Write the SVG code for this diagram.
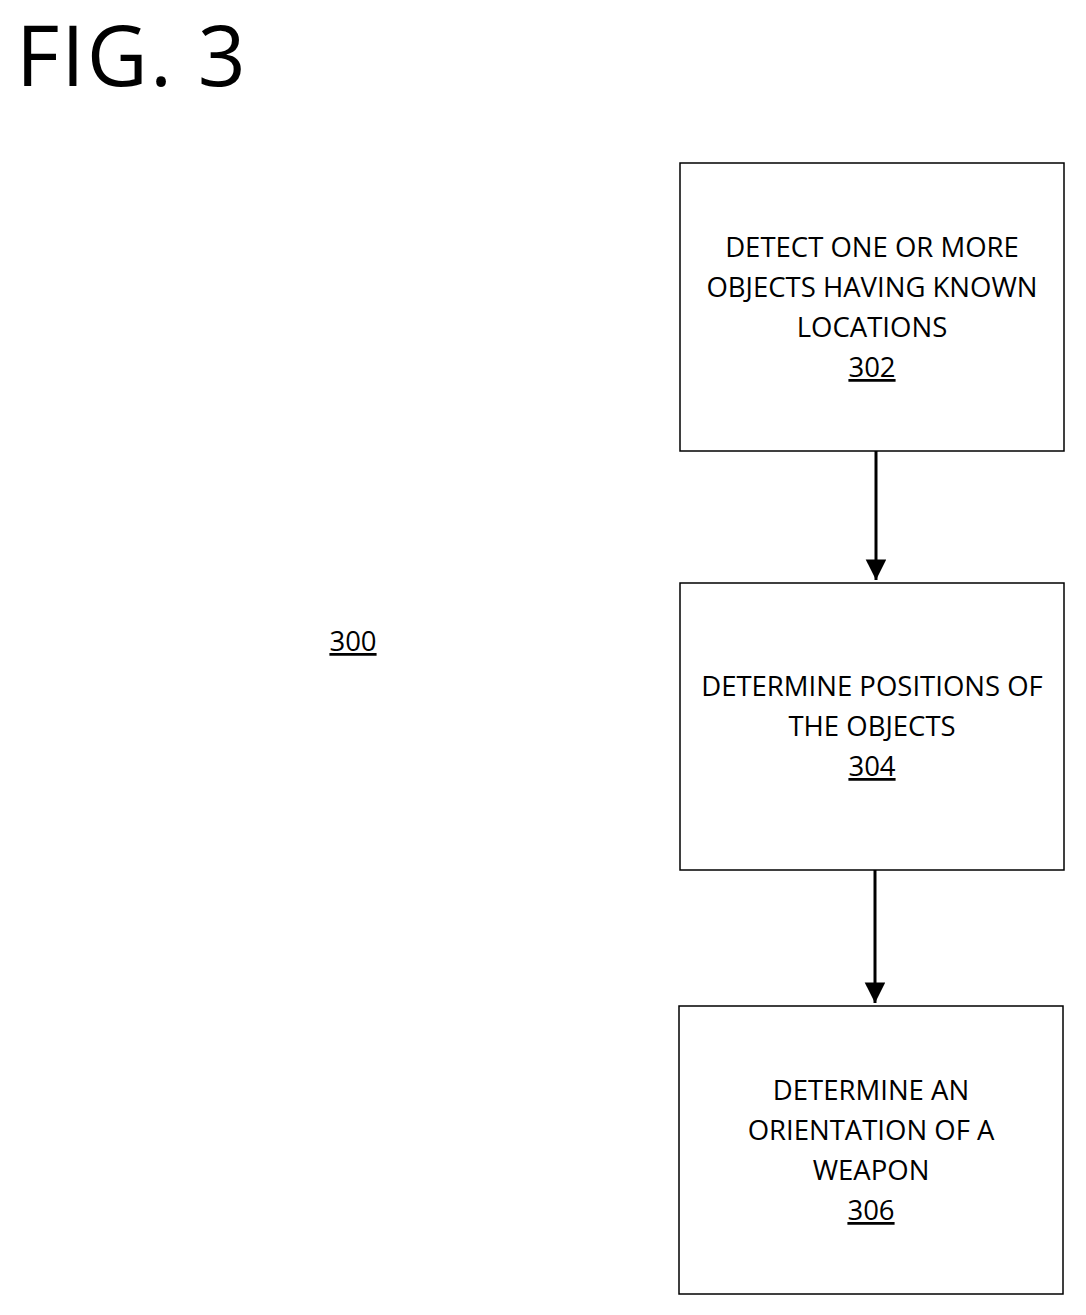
<svg xmlns="http://www.w3.org/2000/svg" width="1086" height="1315" viewBox="0 0 1086 1315">
<style>
.b{fill:#fff;stroke:#000;stroke-width:1.5}
.t{font-family:"Open Sans","Liberation Sans",sans-serif;font-size:27.5px;text-anchor:middle;fill:#000}
.l{stroke:#000;stroke-width:3;fill:none}
</style>
<defs><marker id="ah" viewBox="0 0 24 28" refX="24" refY="12" markerWidth="28" markerHeight="24" orient="auto" markerUnits="userSpaceOnUse"><path d="M0,0L24,12L0,24z"/></marker></defs>
<rect width="1086" height="1315" fill="#fff"/>
<text x="16" y="86" style="font-family:'Open Sans','Liberation Sans',sans-serif;font-size:84px;letter-spacing:2px">FIG. 3</text>
<text x="353" y="651" class="t" text-decoration="underline">300</text>
<g id="n302"><rect class="b" x="680" y="163" width="384" height="288"/>
<text class="t" x="872" y="257">DETECT ONE OR MORE</text><text class="t" x="872" y="297">OBJECTS HAVING KNOWN</text><text class="t" x="872" y="337">LOCATIONS</text><text class="t" x="872" y="377" text-decoration="underline">302</text></g>
<g id="n304"><rect class="b" x="680" y="583" width="384" height="287"/>
<text class="t" x="872" y="696">DETERMINE POSITIONS OF</text><text class="t" x="872" y="736">THE OBJECTS</text><text class="t" x="872" y="776" text-decoration="underline">304</text></g>
<g id="n306"><rect class="b" x="679" y="1006" width="384" height="288"/>
<text class="t" x="871" y="1100">DETERMINE AN</text><text class="t" x="871" y="1140">ORIENTATION OF A</text><text class="t" x="871" y="1180">WEAPON</text><text class="t" x="871" y="1220" text-decoration="underline">306</text></g>
<g id="connectors">
<line class="l" x1="876" y1="451" x2="876" y2="580" marker-end="url(#ah)"/>
<line class="l" x1="875" y1="870" x2="875" y2="1003" marker-end="url(#ah)"/>
</g>
</svg>
